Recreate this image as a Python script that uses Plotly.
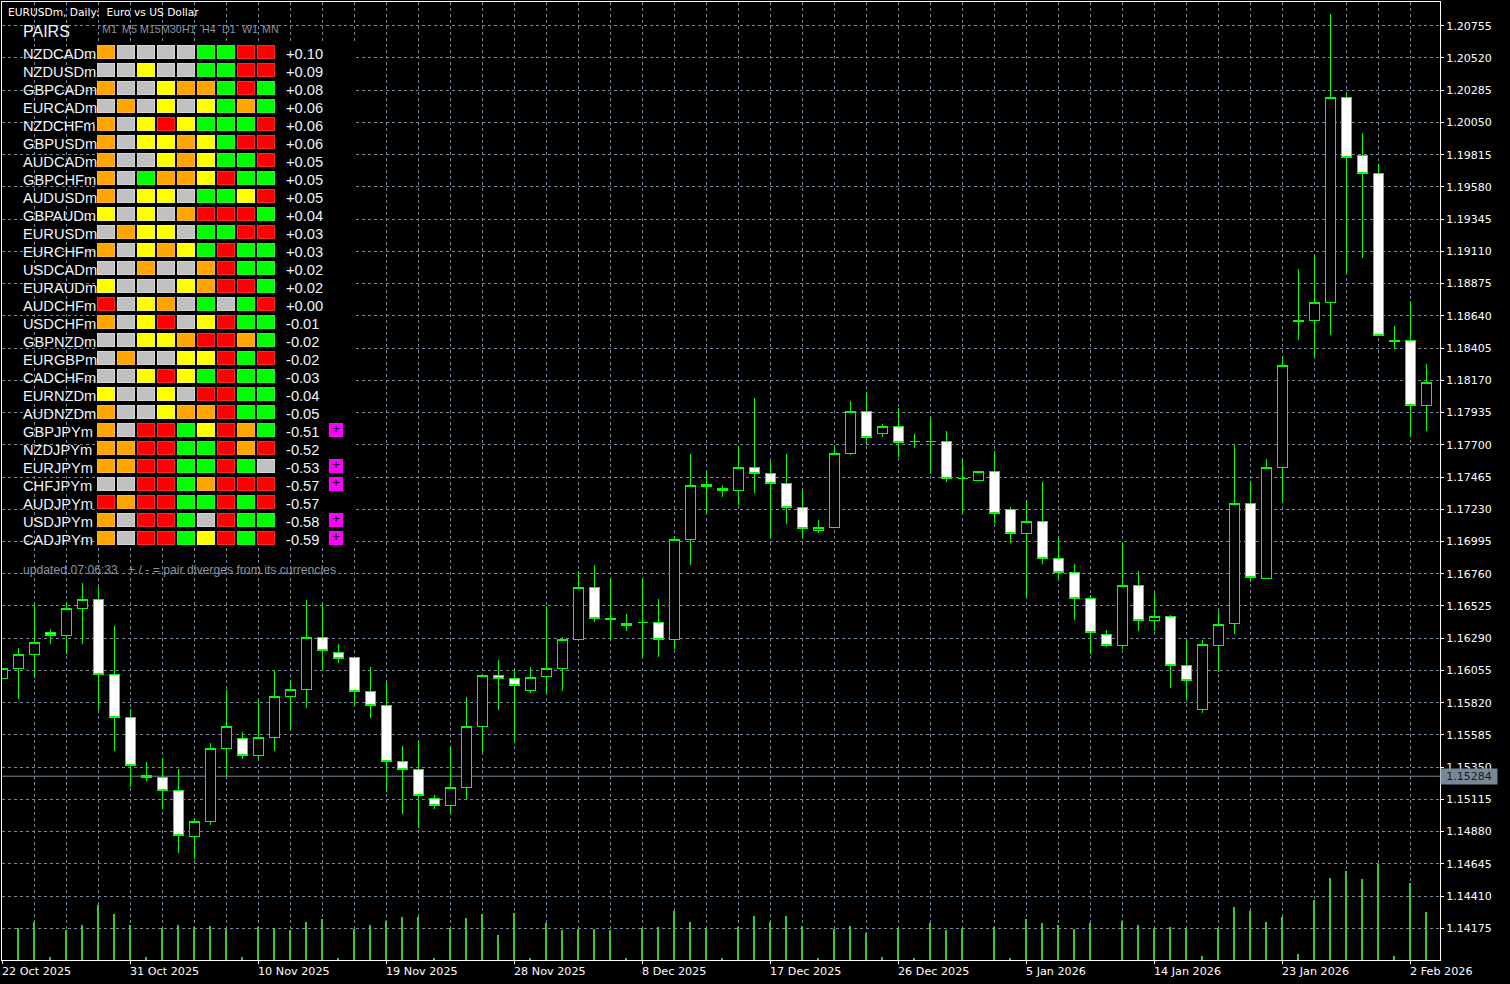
import plotly.graph_objects as go

# ---------- price data ----------
bar_dates = [
 "22 Oct 2025","23 Oct 2025","24 Oct 2025","26 Oct 2025","27 Oct 2025","28 Oct 2025","29 Oct 2025","30 Oct 2025","31 Oct 2025",
 "2 Nov 2025","3 Nov 2025","4 Nov 2025","5 Nov 2025","6 Nov 2025","7 Nov 2025","9 Nov 2025","10 Nov 2025","11 Nov 2025","12 Nov 2025",
 "13 Nov 2025","14 Nov 2025","16 Nov 2025","17 Nov 2025","18 Nov 2025","19 Nov 2025","20 Nov 2025","21 Nov 2025","23 Nov 2025",
 "24 Nov 2025","25 Nov 2025","26 Nov 2025","27 Nov 2025","28 Nov 2025","30 Nov 2025","1 Dec 2025","2 Dec 2025","3 Dec 2025","4 Dec 2025",
 "5 Dec 2025","7 Dec 2025","8 Dec 2025","9 Dec 2025","10 Dec 2025","11 Dec 2025","12 Dec 2025","14 Dec 2025","15 Dec 2025","16 Dec 2025",
 "17 Dec 2025","18 Dec 2025","19 Dec 2025","21 Dec 2025","22 Dec 2025","23 Dec 2025","24 Dec 2025","25 Dec 2025","26 Dec 2025","28 Dec 2025",
 "29 Dec 2025","30 Dec 2025","31 Dec 2025","1 Jan 2026","2 Jan 2026","4 Jan 2026","5 Jan 2026","6 Jan 2026","7 Jan 2026","8 Jan 2026",
 "9 Jan 2026","11 Jan 2026","12 Jan 2026","13 Jan 2026","14 Jan 2026","15 Jan 2026","16 Jan 2026","18 Jan 2026","19 Jan 2026","20 Jan 2026",
 "21 Jan 2026","22 Jan 2026","23 Jan 2026","25 Jan 2026","26 Jan 2026","27 Jan 2026","28 Jan 2026","29 Jan 2026","30 Jan 2026","1 Feb 2026",
 "2 Feb 2026","3 Feb 2026",
]
opens = [
 1.15998,1.16071,1.16173,1.16333,1.16311,1.16508,1.16574,1.16027,1.15713,1.15290,
 1.15276,1.15181,1.14846,1.14955,1.15487,1.15560,1.15436,1.15568,1.15866,1.15917,
 1.16297,1.16187,1.16151,1.15903,1.15801,1.15393,1.15334,1.15123,1.15072,1.15203,
 1.15648,1.16020,1.15998,1.15910,1.16012,1.16071,1.16282,1.16661,1.16435,1.16384,
 1.16406,1.16406,1.16282,1.17011,1.17412,1.17383,1.17368,1.17536,1.17492,1.17419,
 1.17244,1.17077,1.17098,1.17638,1.17944,1.17784,1.17835,1.17725,1.17725,1.17725,
 1.17456,1.17441,1.17507,1.17230,1.17055,1.17142,1.16872,1.16770,1.16581,1.16318,
 1.16238,1.16676,1.16420,1.16450,1.16092,1.15772,1.16238,1.16399,1.17273,1.16727,
 1.17536,1.18602,1.18607,1.18739,1.20233,1.19810,1.19679,1.18459,1.18462,1.17988,
]
highs = [
 1.16071,1.16218,1.16539,1.16355,1.16552,1.16690,1.16665,1.16379,1.15772,1.15385,
 1.15414,1.15334,1.14977,1.15524,1.15910,1.15604,1.15837,1.16056,1.15983,1.16568,
 1.16544,1.16246,1.16151,1.16078,1.15980,1.15504,1.15531,1.15145,1.15502,1.15859,
 1.16020,1.16129,1.16063,1.16078,1.16523,1.16297,1.16778,1.16821,1.16727,1.16464,
 1.16727,1.16574,1.17033,1.17631,1.17507,1.17405,1.17689,1.18039,1.17580,1.17631,
 1.17380,1.17149,1.17696,1.18017,1.18083,1.17849,1.17966,1.17776,1.17900,1.17798,
 1.17599,1.17507,1.17652,1.17244,1.17288,1.17426,1.17030,1.16829,1.16603,1.16348,
 1.16989,1.16778,1.16617,1.16457,1.16282,1.16275,1.16486,1.17696,1.17434,1.17594,
 1.18342,1.18979,1.19081,1.20838,1.20262,1.19971,1.19745,1.18564,1.18746,1.18287,
]
lows = [
 1.15998,1.15849,1.16002,1.16250,1.16177,1.16250,1.15767,1.15470,1.15207,1.15251,
 1.15047,1.14726,1.14683,1.14926,1.15283,1.15412,1.15400,1.15470,1.15619,1.15783,
 1.16056,1.16111,1.15794,1.15710,1.15171,1.15011,1.14909,1.15047,1.15011,1.15116,
 1.15458,1.15763,1.15528,1.15893,1.15881,1.15907,1.16275,1.16406,1.16275,1.16345,
 1.16151,1.16151,1.16213,1.16821,1.17193,1.17322,1.17263,1.17346,1.17023,1.17120,
 1.17018,1.17059,1.17098,1.17628,1.17706,1.17759,1.17613,1.17679,1.17489,1.17431,
 1.17193,1.17441,1.17132,1.16986,1.16581,1.16833,1.16714,1.16425,1.16177,1.16228,
 1.16213,1.16345,1.16345,1.15929,1.15837,1.15747,1.16046,1.16323,1.16697,1.16727,
 1.17278,1.18466,1.18335,1.18502,1.18950,1.19059,1.18498,1.18396,1.17754,1.17798,
]
closes = [
 1.16071,1.16173,1.16260,1.16311,1.16508,1.16574,1.16027,1.15713,1.15363,1.15276,
 1.15181,1.14853,1.14955,1.15487,1.15648,1.15436,1.15568,1.15866,1.15917,1.16297,
 1.16202,1.16143,1.15903,1.15801,1.15393,1.15334,1.15145,1.15072,1.15203,1.15648,
 1.16020,1.15998,1.15947,1.16005,1.16071,1.16282,1.16661,1.16435,1.16428,1.16399,
 1.16406,1.16282,1.17011,1.17405,1.17397,1.17368,1.17536,1.17492,1.17419,1.17244,
 1.17091,1.17098,1.17638,1.17944,1.17754,1.17835,1.17718,1.17725,1.17725,1.17456,
 1.17456,1.17507,1.17200,1.17055,1.17142,1.16872,1.16770,1.16581,1.16333,1.16238,
 1.16676,1.16420,1.16450,1.16092,1.15983,1.16246,1.16391,1.17273,1.16734,1.17536,
 1.18279,1.18606,1.18739,1.20233,1.19796,1.19679,1.18498,1.18451,1.17988,1.18155,
]
volumes = [
 0,32,38,3,30,35,55,46,35,3,32,35,33,34,31,3,33,32,30,38,41,2,31,35,39,43,43,2,32,42,
 46,25,47,2,37,30,31,31,30,2,32,33,49,38,32,2,33,44,38,44,34,2,31,34,27,3,32,2,37,30,
 32,0,33,2,41,37,35,31,37,0,39,35,32,33,32,4,32,53,49,38,43,6,60,82,89,81,96,4,77,48,
]
current_price = 1.15284
y_ticks = [1.20755,1.20520,1.20285,1.20050,1.19815,1.19580,1.19345,1.19110,1.18875,1.18640,
           1.18405,1.18170,1.17935,1.17700,1.17465,1.17230,1.16995,1.16760,1.16525,1.16290,
           1.16055,1.15820,1.15585,1.15350,1.15115,1.14880,1.14645,1.14410,1.14175]
x_tick_step = 8

# ---------- dashboard data ----------
timeframes = ["M1","M5","M15","M30","H1","H4","D1","W1","MN"]
pairs = ["NZDCADm","NZDUSDm","GBPCADm","EURCADm","NZDCHFm","GBPUSDm","AUDCADm","GBPCHFm","AUDUSDm","GBPAUDm",
         "EURUSDm","EURCHFm","USDCADm","EURAUDm","AUDCHFm","USDCHFm","GBPNZDm","EURGBPm","CADCHFm","EURNZDm",
         "AUDNZDm","GBPJPYm","NZDJPYm","EURJPYm","CHFJPYm","AUDJPYm","USDJPYm","CADJPYm"]
states = ["OGGGGLLRR","GGYGGLLRR","OGGYOOLRL","GOGYGYLOL","OGYRYLLLR","OGYYOYLRR","OGGYOYLLR","OGLOOYRLL",
          "OGYYGLLYR","YGYGORRRL","GOYYGLLRR","OGYOYLRLL","GGOGGORLL","YGGGYORRL","RGYOGLGLR","OGYRGYRLL",
          "GGYYORROL","GOGGYYRLR","GGYRYLRLL","YGGYGRRLL","OGGYOORLL","OGRRLYROL","OORRLLROR","OORRLLRLG",
          "GGRRLORRR","RORRLLRLR","OGRRLGRLL","OGRRLYRLR"]
scores = ["+0.10","+0.09","+0.08","+0.06","+0.06","+0.06","+0.05","+0.05","+0.05","+0.04","+0.03","+0.03","+0.02","+0.02",
          "+0.00","-0.01","-0.02","-0.02","-0.03","-0.04","-0.05","-0.51","-0.52","-0.53","-0.57","-0.57","-0.58","-0.59"]
diverging = ["GBPJPYm","EURJPYm","CHFJPYm","USDJPYm","CADJPYm"]

# ---------- style ----------
W, H = 1510, 984
L, R, T, B = 2, 1440, 2, 960
GRID = "#778899"
SOFT = "#8794a1"
LIME = "#00ff00"
state_index = {"G": 0, "O": 1, "Y": 2, "L": 3, "R": 4}
inner_cols = ["#c0c0c0", "#ffa500", "#ffff00", "#00ff00", "#ff0000"]
outer_cols = ["#d6d6d6", "#ffb428", "#ffff2e", "#1eff1e", "#ff2a2a"]
def scale(cols):
    return [[i / 4, c] for i, c in enumerate(cols)]
def px(x):
    return (x - L) / (R - L)
def py(y):
    return (B - y) / (B - T)

x_idx = list(range(len(bar_dates)))
z = [[state_index[c] for c in row] for row in states]
col_idx = list(range(len(timeframes)))
DIV_COL = 11.5

fig = go.Figure()
fig.add_trace(go.Bar(x=x_idx, y=volumes, yaxis="y2", width=0.125, offset=-0.08,
                     marker=dict(color="#32cd32", line=dict(width=0)), hoverinfo="skip"))
fig.add_trace(go.Candlestick(
    x=x_idx, open=opens, high=highs, low=lows, close=closes, text=bar_dates,
    whiskerwidth=0,
    increasing=dict(fillcolor="#000000", line=dict(color=LIME, width=1)),
    decreasing=dict(fillcolor="#ffffff", line=dict(color=LIME, width=1)),
))
# dashboard cells: two layers give the bevelled button look
fig.add_trace(go.Heatmap(x=col_idx, y=pairs, z=z, xaxis="x3", yaxis="y3", zmin=0, zmax=4,
                         colorscale=scale(outer_cols), showscale=False, xgap=2, ygap=4, hoverinfo="skip"))
fig.add_trace(go.Heatmap(x=col_idx, y=pairs, z=z, xaxis="x3", yaxis="y3", zmin=0, zmax=4,
                         colorscale=scale(inner_cols), showscale=False, xgap=4, ygap=6, hoverinfo="skip"))
fig.add_trace(go.Scatter(x=[DIV_COL] * len(diverging), y=diverging, xaxis="x3", yaxis="y3", mode="markers+text",
                         marker=dict(symbol="square", size=14, color="#ff00ff", line=dict(width=0)),
                         text=["+"] * len(diverging), textposition="middle center",
                         textfont=dict(color="#000000", size=13, family="Liberation Sans"),
                         cliponaxis=False, hoverinfo="skip"))

ann = []
LABEL = "#eef4fa"
ARIAL = "Liberation Sans"
PAD = 2  # annotations sit this far inside their anchor
ann.append(dict(xref="paper", yref="paper", x=px(8 - PAD), y=py(12), xanchor="left", yanchor="middle", showarrow=False,
                text="EURUSDm, Daily:&nbsp;&nbsp;Euro vs US Dollar", font=dict(family="DejaVu Sans", size=10.67, color="#ffffff")))
ann.append(dict(xref="paper", yref="paper", x=px(23 - PAD), y=py(32), xanchor="left", yanchor="middle", showarrow=False,
                text="PAIRS", font=dict(family=ARIAL, size=16, color=LABEL)))
tf_left = [102, 122, 140, 160.5, 182, 202, 222, 242, 262]
for name, xp in zip(timeframes, tf_left):
    ann.append(dict(xref="paper", yref="paper", x=px(xp - PAD), y=py(29), xanchor="left", yanchor="middle", showarrow=False,
                    text=name, font=dict(family=ARIAL, size=10.67, color=SOFT)))
for name, score in zip(pairs, scores):
    ann.append(dict(xref="paper", yref="y3", x=px(23 - PAD), y=name, xanchor="left", yanchor="middle", yshift=-2, showarrow=False,
                    text=name, font=dict(family=ARIAL, size=14.67, color=LABEL)))
    ann.append(dict(xref="paper", yref="y3", x=px(286 - PAD), y=name, xanchor="left", yanchor="middle", yshift=-2, showarrow=False,
                    text=score, font=dict(family=ARIAL, size=14.67, color=LABEL)))
ann.append(dict(xref="paper", yref="paper", x=px(23 - PAD), y=py(570), xanchor="left", yanchor="middle", showarrow=False,
                text="updated 07:06:33&nbsp;&nbsp;&nbsp;+ / - = pair diverges from its currencies",
                font=dict(family=ARIAL, size=12.2, color=SOFT)))
# x labels start at their tick, as in the terminal
for i in x_idx[::x_tick_step]:
    ann.append(dict(xref="x", yref="paper", x=i, y=py(972), xanchor="left", yanchor="middle", xshift=-PAD - 1, showarrow=False,
                    text=bar_dates[i], font=dict(family="DejaVu Sans", size=11.2, color="#ffffff")))
ann.append(dict(xref="paper", yref="y", x=px(1442 - PAD), y=current_price, xanchor="left", yanchor="middle", showarrow=False,
                text=f"{current_price:.5f}", width=56, height=15, borderpad=0, align="center", bgcolor=GRID,
                font=dict(family="DejaVu Sans", size=11, color="#1a1a1a")))

fig.update_layout(
    width=W, height=H, margin=dict(l=L, r=W - R, t=T, b=H - B, pad=0),
    paper_bgcolor="#000000", plot_bgcolor="#000000", showlegend=False, bargap=0,
    boxgap=0.375, boxgroupgap=0, dragmode=False, annotations=ann,
    shapes=[dict(type="line", xref="paper", x0=0, x1=1, yref="y", y0=current_price, y1=current_price,
                 line=dict(color=GRID, width=1), layer="below")],
    xaxis=dict(range=[-0.5 / 16, (R - L - 0.5) / 16], tickmode="array", tickvals=x_idx[::x_tick_step], showticklabels=False,
               ticks="outside", ticklen=3, tickcolor="#ffffff", tickwidth=1,
               showline=True, linecolor="#ffffff", linewidth=1, mirror=True, zeroline=False,
               showgrid=True, gridcolor=GRID, griddash="3px,3px", gridwidth=1,
               minor=dict(tickmode="linear", tick0=0, dtick=2, showgrid=True, gridcolor=GRID, griddash="3px,3px", gridwidth=1, ticks=""),
               rangeslider=dict(visible=False), fixedrange=True),
    yaxis=dict(range=[1.13944, 1.20928], side="right", tickmode="array", tickvals=y_ticks, tickformat=".5f",
               ticks="outside", ticklen=3, tickcolor="#ffffff", tickwidth=1, tickfont=dict(family="DejaVu Sans", size=11, color="#ffffff"),
               showline=True, linecolor="#ffffff", linewidth=1, mirror=True, zeroline=False,
               showgrid=True, gridcolor=GRID, griddash="3px,3px", gridwidth=1, fixedrange=True),
    yaxis2=dict(overlaying="y", range=[0, B - T], visible=False, fixedrange=True),
    xaxis3=dict(domain=[px(96), px(356)], range=[-0.5, 12.5], anchor="y3", visible=False, fixedrange=True),
    yaxis3=dict(domain=[py(547), py(43)], type="category", categoryorder="array", categoryarray=pairs,
                range=[len(pairs) - 0.5, -0.5], anchor="x3", visible=False, fixedrange=True),
)

fig.write_html("out.html", config=dict(displayModeBar=False),
               post_script="document.body.style.margin='0';document.documentElement.style.overflow='hidden';"
                           "document.querySelectorAll('.boxes path').forEach(function(p){p.style.shapeRendering='crispEdges';});")
